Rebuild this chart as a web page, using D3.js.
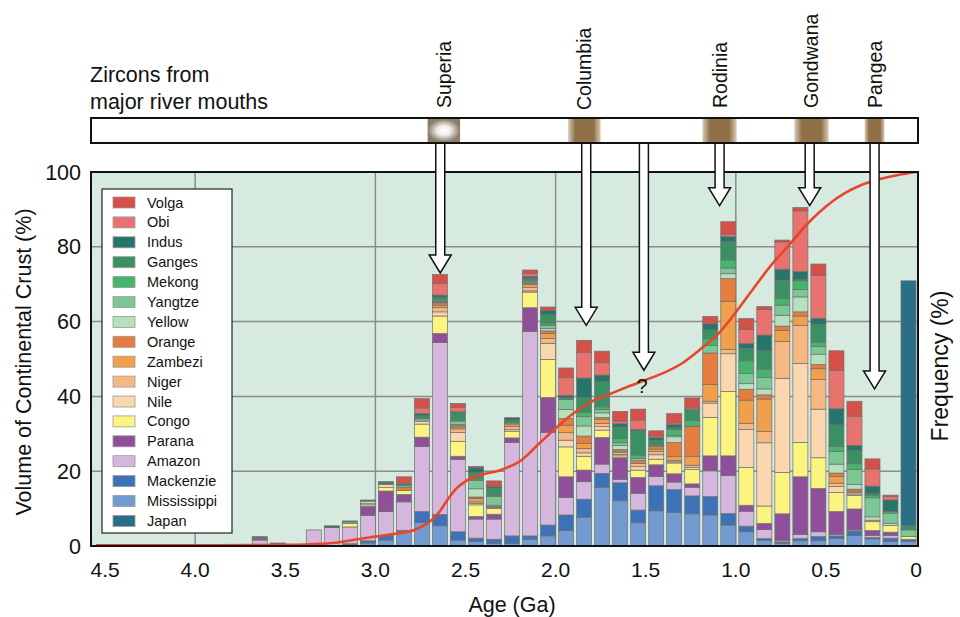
<!DOCTYPE html>
<html>
<head>
<meta charset="utf-8">
<script src="https://cdn.jsdelivr.net/npm/d3@7/dist/d3.min.js"></script>
<style>
  body { margin: 0; background: #fff; }
  svg text { font-family: "Liberation Sans", Arial, sans-serif; fill: #111; }
</style>
</head>
<body>
<div class="svg-wrapper"></div>
<script>
// bins, oldest edge of each 0.1 Ga bin (left to right)
var binOld = [3.7,3.6,3.5,3.4,3.3,3.2,3.1,3.0,2.9,2.8,2.7,2.6,2.5,2.4,2.3,2.2,2.1,2.0,1.9,1.8,
              1.7,1.6,1.5,1.4,1.3,1.2,1.1,1.0,0.9,0.8,0.7,0.6,0.5,0.4,0.3,0.2,0.1];

// river contributions (% frequency) per bin
var mississippi = [0,0,0,0,0,0.4,0.8,1.6,3.8,6.3,5.4,1.6,1.2,0.7,0.7,1.8,2.7,4.1,7.7,15.7,12.1,6.2,9.4,9.0,8.6,8.3,5.6,3.8,1.5,0.7,1.4,1.4,2.0,2.8,1.9,1.2,1.2];
var mackenzie   = [0,0,0,0,0,0.2,0.6,1.2,0.4,2.9,3.0,2.2,0.9,1.1,2.0,0.9,2.9,4.2,4.8,3.7,4.8,3.4,6.7,6.1,4.8,4.9,3.1,1.5,0.5,0.4,0.6,1.1,0.7,1.2,0.4,0.9,0.6];
var amazon      = [1.6,0.4,0,4.3,4.9,4.5,6.8,6.4,7.6,17.4,46,19.3,5.1,5.4,25.0,54.7,24.7,4.7,4.7,2.5,0.9,4.5,2.5,2.0,2.3,6.9,10.1,4.0,2.4,0.4,1.1,1.3,0.4,0.3,0.5,0.7,0];
var parana      = [0.5,0.2,0,0,0,0,2.4,5.5,2.0,2.5,2.4,0.9,0.7,1.3,1.2,6.3,9.4,5.5,3.1,7.1,5.8,4.2,3.1,2.2,0.9,4.0,5.3,1.6,1.6,7.1,15.4,11.6,6.1,5.6,1.3,0.9,0];
var congo       = [0,0,0,0,0,0.9,0.4,0.9,1.1,3.5,4.7,4.0,3.1,1.5,1.8,4.2,10.2,8.0,3.7,2.0,0.5,2.0,1.5,2.9,3.9,10.3,17.2,10.1,4.7,11.1,9.2,8.2,5.1,3.6,2.4,1.8,0.7];
var nile        = [0,0,0,0,0,0,0.3,0.9,0,0.7,1.1,2.4,0.4,0,0.4,0.3,4.3,1.8,0.9,0.9,0.4,0.9,1.2,0.3,0.5,3.8,10.1,10.2,16.9,25.1,21.1,13.0,1.6,0.4,0,0,0];
var niger       = [0,0,0,0,0,0,0,0,0,0,1.2,0.9,0.4,0,0.9,0.9,1.3,2.0,1.2,0.9,0.5,0.9,0.9,0.3,0.6,0.5,1.1,1.6,3.0,9.9,10.2,7.9,0.9,0.4,0.4,0,0];
var zambezi     = [0,0,0,0,0,0,0,0,0,0,0.6,0.5,0.9,0.3,0.6,0.8,1.3,2.0,1.3,1.1,0.4,0,0.6,1.2,2.4,4.5,12.9,6.2,8.7,2.9,2.5,2.9,1.8,0.4,0,0,0];
var orange      = [0,0,0,0,0,0,0,0,0.7,0,0.6,0.5,0.4,0.3,0,0.3,0.7,1.8,2.0,0.5,0.4,0.7,0.7,3.7,8.0,8.4,6.1,2.9,1.1,1.2,1.1,1.1,0.9,0.5,0,0,0];
var yellow      = [0,0,0,0,0,0.4,0.7,0,0,0.4,0.2,0.2,2.2,0.3,0,0.3,0.6,2.4,2.7,1.2,1.1,0,0,1.5,0,0,1.3,1.5,1.6,2.9,4.0,2.8,2.4,1.2,0.9,0.6,0];
var yangtze     = [0,0,0,0,0,0,0,0,0.5,0.4,0.2,0.9,2.2,2.3,0.3,0.3,0.9,2.7,2.5,0.9,0.7,0.6,0,0.4,0,2.0,1.5,2.7,3.1,2.7,2.0,2.0,3.4,4.1,5.1,2.7,1.8];
var mekong      = [0,0,0,0,0,0,0,0,0,0,0.4,0.3,0.4,0.3,0.2,0.3,0.4,0,1.1,0.7,1.1,0.9,0.4,1.6,1.6,1.8,2.2,3.4,2.2,1.8,2.3,1.2,1.3,1.5,0.7,0.4,0];
var ganges      = [0.4,0,0,0,0,0.3,0.3,0.4,0.6,0.7,0.6,2.0,1.8,2.0,0.6,0.5,2.5,0.5,4.1,6.7,3.1,6.5,1.3,0.4,2.9,2.4,4.9,3.3,4.9,4.9,0.3,4.8,5.8,3.6,0.4,0,1.1];
var indus       = [0,0,0,0,0.5,0,0,0.3,0,0.6,0.7,0.2,1.2,0.4,0.6,0.5,1.1,0.6,5.1,1.8,0.9,0.4,0.7,0.9,0,1.6,1.3,1.3,4.2,2.9,2.2,1.6,4.3,1.3,2.0,3.1,0];
var obi         = [0,0,0,0,0,0,0,0,0,1.5,3.1,1.2,0,0.2,0,0.7,0,4.7,6.9,3.3,0.7,2.5,0.4,0.4,0.4,0,0.7,3.8,6.8,7.3,16.2,11.4,10.2,7.8,4.6,0.9,0];
var volga       = [0,0.2,0,0,0,0,0,0,1.8,2.5,2.4,1.0,0.4,1.3,0,1.0,0.9,2.6,3.2,3.1,2.6,2.9,1.4,2.5,2.7,2.0,3.3,2.9,0.8,0.5,0.9,3.1,5.3,4.0,2.7,0.4,0];
var japan       = [0,0,0,0,0,0,0,0,0,0,0,0,0,0,0,0,0,0,0,0,0,0,0,0,0,0,0,0,0,0,0,0,0,0,0,0,65.5];

// legend order (top to bottom)
var riverNames  = ["Volga","Obi","Indus","Ganges","Mekong","Yangtze","Yellow","Orange","Zambezi",
                   "Niger","Nile","Congo","Parana","Amazon","Mackenzie","Mississippi","Japan"];
var riverColors = ["#d6504a","#e8736e","#26756a","#3a9062","#45b46c","#7dc794","#b7e0bf","#e67d3e","#f29f4b",
                   "#f6b882","#fbd7b0","#fcf480","#904f99","#d5b6dc","#3d72b8","#739bd2","#2a6f87"];
var riverValues = [volga,obi,indus,ganges,mekong,yangtze,yellow,orange,zambezi,
                   niger,nile,congo,parana,amazon,mackenzie,mississippi,japan];
// stacking order bottom -> top
var stackOrder  = ["Mississippi","Mackenzie","Amazon","Parana","Congo","Nile","Niger","Zambezi","Orange",
                   "Yellow","Yangtze","Mekong","Ganges","Indus","Obi","Volga","Japan"];

// cumulative volume of continental crust (red curve)
var curveAge = [4.55,4.0,3.5,3.3,3.2,3.1,3.0,2.9,2.8,2.75,2.7,2.65,2.6,2.55,2.5,2.45,2.4,2.3,2.2,2.1,2.0,
                1.9,1.8,1.7,1.6,1.5,1.4,1.3,1.2,1.1,1.0,0.9,0.8,0.7,0.6,0.5,0.4,0.3,0.2,0.1,0];
var curveVal = [0.2,0.2,0.3,0.6,1.0,1.8,2.5,3.2,4.0,5.0,6.4,8.8,12.3,15.4,17.3,18.5,19.2,20.4,22.6,27.0,31.5,
                35.5,38.6,40.6,42.6,44.4,46.3,48.8,52.5,56.6,62.5,69.0,75.3,80.7,86.3,90.8,94.2,96.6,98.1,99.2,100];

var xTicks = [4.5,4.0,3.5,3.0,2.5,2.0,1.5,1.0,0.5,0];
var yTicks = [0,20,40,60,80,100];

var supercontinents = ["Superia","Columbia","Rodinia","Gondwana","Pangea"];
var scAge           = [2.62,1.84,1.09,0.58,0.23];
var scSpan          = [0.18,0.18,0.19,0.19,0.11];
var arrowAge        = [2.64,1.83,1.51,1.09,0.59,0.23];
var arrowTip        = [73,59,47,91,91,42];

var width = 960, height = 617;
var svg = d3.select(".svg-wrapper").append("svg")
  .attr("width", width).attr("height", height);

var x = d3.scaleLinear().domain([4.578, -0.011]).range([91, 918]);
var y = d3.scaleLinear().domain([0, 100]).range([546, 172]);

var defs = svg.append("defs");
defs.append("clipPath").attr("id", "plotclip")
  .append("rect").attr("x", 91).attr("y", 172).attr("width", 827).attr("height", 374);

// plot background
svg.append("rect").attr("x", 91).attr("y", 172).attr("width", 827).attr("height", 374)
  .attr("fill", "#d6eadf");

// grid
svg.append("g").selectAll("line").data([20,40,60,80]).join("line")
  .attr("x1", 91).attr("x2", 918).attr("y1", d => y(d)).attr("y2", d => y(d))
  .attr("stroke", "#8c8c8c").attr("stroke-width", 1.5);
svg.append("g").selectAll("line").data([4,3,2,1]).join("line")
  .attr("x1", d => x(d)).attr("x2", d => x(d)).attr("y1", 172).attr("y2", 546)
  .attr("stroke", "#8c8c8c").attr("stroke-width", 1.5);

// stacked bars
var colorOf = d3.scaleOrdinal().domain(riverNames).range(riverColors);
var table = binOld.map(function(a, i) {
  var row = {age: a};
  riverNames.forEach(function(n, k) { row[n] = riverValues[k][i]; });
  return row;
});
var series = d3.stack().keys(stackOrder)(table);

var bars = svg.append("g").attr("clip-path", "url(#plotclip)");
series.forEach(function(s) {
  bars.append("g").selectAll("rect").data(s.filter(d => d[1] - d[0] > 0)).join("rect")
    .attr("x", d => x(d.data.age) + 3)
    .attr("width", d => x(d.data.age - 0.1) - x(d.data.age) - 3)
    .attr("y", d => y(d[1]))
    .attr("height", d => y(d[0]) - y(d[1]))
    .attr("fill", colorOf(s.key))
    .attr("stroke", "#6f6f6f").attr("stroke-width", 0.7);
});

// red curve
var line = d3.line().x((d, i) => x(curveAge[i])).y(d => y(d)).curve(d3.curveCatmullRom);
svg.append("path").datum(curveVal).attr("d", line)
  .attr("clip-path", "url(#plotclip)")
  .attr("fill", "none").attr("stroke", "#e8462c").attr("stroke-width", 2.6);

// frame
svg.append("rect").attr("x", 91).attr("y", 172).attr("width", 827).attr("height", 374)
  .attr("fill", "none").attr("stroke", "#111").attr("stroke-width", 2);

// axes labels
svg.append("g").selectAll("text").data(xTicks).join("text")
  .attr("x", d => x(d)).attr("y", 577).attr("text-anchor", "middle")
  .attr("font-size", 21).text(d => d === 0 ? "0" : d.toFixed(1));
svg.append("g").selectAll("text").data(yTicks).join("text")
  .attr("x", 81).attr("y", d => y(d) + 7.5).attr("text-anchor", "end")
  .attr("font-size", 21.5).text(d => d);
svg.append("text").attr("x", 512).attr("y", 612).attr("text-anchor", "middle")
  .attr("font-size", 21.5).text("Age (Ga)");
svg.append("text").attr("transform", "translate(31,362) rotate(-90)").attr("text-anchor", "middle")
  .attr("font-size", 21.5).text("Volume of Continental Crust (%)");
svg.append("text").attr("transform", "translate(948,366) rotate(-90)").attr("text-anchor", "middle")
  .attr("font-size", 23).text("Frequency (%)");

// legend
var lg = svg.append("g");
lg.append("rect").attr("x", 102).attr("y", 189).attr("width", 130).attr("height", 344)
  .attr("fill", "#fff").attr("stroke", "#222").attr("stroke-width", 1.2);
riverNames.forEach(function(n, i) {
  var cy = 202.5 + i * 19.9;
  lg.append("rect").attr("x", 113).attr("y", cy - 5.5).attr("width", 22).attr("height", 11)
    .attr("fill", riverColors[i]).attr("stroke", "#999").attr("stroke-width", 0.8);
  lg.append("text").attr("x", 147).attr("y", cy + 5).attr("font-size", 14.5).text(n);
});

// zircon band
svg.append("text").attr("x", 90).attr("y", 82).attr("font-size", 21.5).text("Zircons from");
svg.append("text").attr("x", 90).attr("y", 109).attr("font-size", 21.5).text("major river mouths");
svg.append("rect").attr("x", 91).attr("y", 118).attr("width", 827).attr("height", 25)
  .attr("fill", "#fff");

var gb = defs.append("linearGradient").attr("id", "brown");
gb.append("stop").attr("offset", "0%").attr("stop-color", "#d9ccb7");
gb.append("stop").attr("offset", "22%").attr("stop-color", "#8f7047");
gb.append("stop").attr("offset", "78%").attr("stop-color", "#8f7047");
gb.append("stop").attr("offset", "100%").attr("stop-color", "#d9ccb7");
var gw = defs.append("radialGradient").attr("id", "white");
gw.append("stop").attr("offset", "0%").attr("stop-color", "#ffffff");
gw.append("stop").attr("offset", "40%").attr("stop-color", "#f2efea");
gw.append("stop").attr("offset", "100%").attr("stop-color", "#8a7c6a");

var labelBottom = [108, 110, 108, 108, 108];
supercontinents.forEach(function(n, i) {
  svg.append("rect")
    .attr("x", x(scAge[i] + scSpan[i] / 2)).attr("y", 119)
    .attr("width", x(scAge[i] - scSpan[i] / 2) - x(scAge[i] + scSpan[i] / 2)).attr("height", 23)
    .attr("fill", i === 0 ? "url(#white)" : "url(#brown)");
  svg.append("text")
    .attr("transform", "translate(" + (x(scAge[i]) + 7) + "," + labelBottom[i] + ") rotate(-90)")
    .attr("font-size", 19.5).text(n);
});
svg.append("rect").attr("x", 91).attr("y", 118).attr("width", 827).attr("height", 25)
  .attr("fill", "none").attr("stroke", "#111").attr("stroke-width", 2);

// arrows
arrowAge.forEach(function(a, i) {
  var cx = x(a), tip = y(arrowTip[i]), top = 144;
  var p = d3.path();
  p.moveTo(cx - 4.5, top); p.lineTo(cx - 4.5, tip - 18); p.lineTo(cx - 11, tip - 18);
  p.lineTo(cx, tip); p.lineTo(cx + 11, tip - 18); p.lineTo(cx + 4.5, tip - 18);
  p.lineTo(cx + 4.5, top);
  svg.append("path").attr("d", p.toString())
    .attr("fill", "#fff").attr("stroke", "#111").attr("stroke-width", 1.5);
});
svg.append("text").attr("x", x(1.52)).attr("y", 393).attr("text-anchor", "middle")
  .attr("font-size", 20).text("?");
</script>
</body>
</html>
